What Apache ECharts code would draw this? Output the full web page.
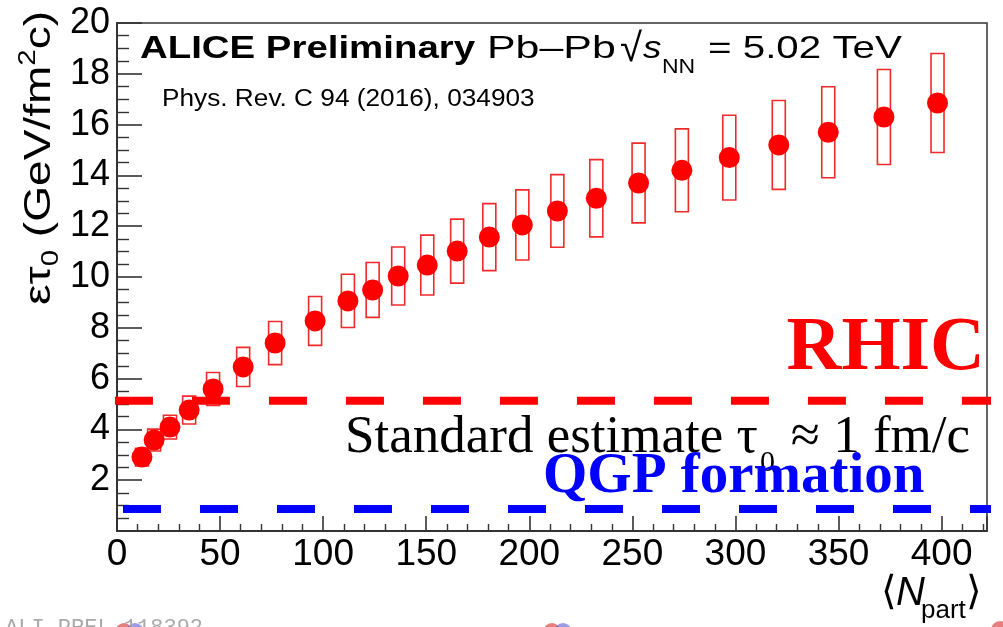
<!DOCTYPE html>
<html lang="en" style="height: 100%">
<head>
    <meta charset="utf-8">
    <script src="https://cdn.jsdelivr.net/npm/echarts@6/dist/echarts.min.js"></script>
</head>
<body style="height: 100%; margin: 0; background: #fff">
<div id="main" style="width: 1003px; height: 627px"></div>

<script type="text/javascript">
    // <Npart> per centrality class
    var npart = [12.1, 18.0, 25.7, 35.0, 46.6, 61.2, 76.7, 96.1, 112, 124, 136.4, 150.5,
        165, 180.6, 196.6, 213.6, 232.5, 253, 274, 297, 321, 345, 372, 398];
    // epsilon * tau0 (GeV/fm^2 c)
    var epsTau = [2.91, 3.58, 4.09, 4.76, 5.59, 6.46, 7.40, 8.27, 9.06, 9.49, 10.04, 10.47,
        11.02, 11.57, 12.05, 12.60, 13.10, 13.70, 14.20, 14.70, 15.20, 15.70, 16.30, 16.85];
    // systematic uncertainty (half height of the boxes)
    var sysErr = [0.35, 0.43, 0.47, 0.55, 0.65, 0.77, 0.85, 0.96, 1.05, 1.08, 1.14, 1.18,
        1.26, 1.32, 1.38, 1.43, 1.52, 1.57, 1.63, 1.67, 1.75, 1.79, 1.87, 1.95];

    // reference levels
    var rhicLevel = 5.13;
    var qgpLevel = 0.87;
    var rhicSpan = [-1, 432];
    var qgpSpan = [2.9, 432];

    var xTicks = [0, 50, 100, 150, 200, 250, 300, 350, 400];
    var yTicks = [2, 4, 6, 8, 10, 12, 14, 16, 18, 20];

    var sans = 'Liberation Sans';
    var serif = 'Liberation Serif';

    var chart = echarts.init(document.getElementById('main'), null, {renderer: 'canvas'});

    var boxData = npart.map(function (n, i) {
        return [n, epsTau[i], sysErr[i]];
    });
    var pointData = npart.map(function (n, i) {
        return [n, epsTau[i]];
    });

    // helper for plain text pieces (baseline given in y)
    function txt(x, baseline, text, size, opts) {
        opts = opts || {};
        return {
            type: 'text',
            x: x,
            y: baseline - size * 0.34,
            scaleX: opts.sx || 1,
            z: 100,
            style: {
                text: text,
                fontFamily: opts.family || sans,
                fontSize: size,
                fontWeight: opts.weight || 'normal',
                fontStyle: opts.style || 'normal',
                fill: opts.color || '#000',
                align: opts.align || 'left',
                verticalAlign: 'middle'
            }
        };
    }

    var axisCol = '#333';

    chart.setOption({
        animation: false,
        grid: {
            left: 117, right: 16, top: 23, bottom: 96,
            show: true, borderColor: axisCol, borderWidth: 1.5,
            containLabel: false, outerBoundsMode: 'none'
        },
        xAxis: {
            type: 'value',
            min: 0, max: 422, interval: 50,
            axisLine: {show: true, onZero: false, lineStyle: {color: axisCol, width: 2}},
            axisTick: {show: true, inside: true, length: 15, lineStyle: {color: axisCol, width: 1.6}},
            minorTick: {show: true, splitNumber: 5, length: 7, lineStyle: {color: axisCol, width: 1.4}},
            splitLine: {show: false},
            axisLabel: {
                fontFamily: sans, fontSize: 37, color: '#000', margin: 5,
                showMaxLabel: false,
                formatter: function (v) { return xTicks.indexOf(v) >= 0 ? String(v) : ''; }
            }
        },
        yAxis: {
            type: 'value',
            min: 0, max: 20, interval: 2,
            axisLine: {show: true, onZero: false, lineStyle: {color: axisCol, width: 2}},
            axisTick: {show: true, inside: true, length: 25, lineStyle: {color: axisCol, width: 1.6}},
            minorTick: {show: true, splitNumber: 4, length: 12, lineStyle: {color: axisCol, width: 1.4}},
            splitLine: {show: false},
            axisLabel: {
                fontFamily: sans, fontSize: 36, color: '#000', margin: 7,
                showMinLabel: false,
                formatter: function (v) { return yTicks.indexOf(v) >= 0 ? String(v) : ''; }
            }
        },
        series: [
            {
                // systematic boxes
                type: 'custom',
                data: boxData,
                z: 2,
                renderItem: function (params, api) {
                    var x = api.value(0), y = api.value(1), e = api.value(2);
                    var top = api.coord([x, y + e]);
                    var bot = api.coord([x, y - e]);
                    var w = 13;
                    return {
                        type: 'rect',
                        shape: {x: top[0] - w / 2, y: top[1], width: w, height: bot[1] - top[1]},
                        style: {fill: 'none', stroke: '#f02a2a', lineWidth: 1.6}
                    };
                }
            },
            {
                type: 'line',
                data: [[rhicSpan[0], rhicLevel], [rhicSpan[1], rhicLevel]],
                symbol: 'none', clip: false, z: 3,
                lineStyle: {color: '#ff0000', width: 8, type: [38, 39]}
            },
            {
                type: 'line',
                data: [[qgpSpan[0], qgpLevel], [qgpSpan[1], qgpLevel]],
                symbol: 'none', clip: false, z: 3,
                lineStyle: {color: '#0000ff', width: 8, type: [38, 39]}
            },
            {
                type: 'scatter',
                data: pointData,
                symbol: 'circle',
                symbolSize: 21,
                z: 4,
                itemStyle: {color: '#ff0000', opacity: 1}
            }
        ],
        graphic: [
            // header
            txt(140, 60, 'ALICE Preliminary', 32, {weight: 'bold', sx: 1.2}),
            txt(487, 60, 'Pb–Pb', 32, {sx: 1.34}),
            txt(620, 64, '√', 40, {}),
            txt(643, 60, 's', 32, {style: 'italic', sx: 1.15}),
            txt(662, 74, 'NN', 20, {sx: 1.15}),
            txt(708, 60, '= 5.02 TeV', 32, {sx: 1.26}),
            txt(162, 107, 'Phys. Rev. C 94 (2016), 034903', 23, {sx: 1.14}),

            // annotations
            txt(985, 375, 'RHIC', 76, {family: serif, weight: 'bold', color: '#ff0000', align: 'right'}),
            txt(345, 456, 'Standard estimate τ', 53, {family: serif}),
            txt(760, 473, '0', 30, {family: serif}),
            txt(970, 456, '≈ 1 fm/c', 53, {family: serif, align: 'right'}),
            txt(543, 497, 'QGP formation', 57, {family: serif, weight: 'bold', color: '#0000ff'}),

            // x axis title
            txt(881, 607, '⟨', 40, {}),
            txt(896, 607, 'N', 40, {style: 'italic'}),
            txt(921, 620, 'part', 26, {}),
            txt(966, 607, '⟩', 40, {}),

            // y axis title (rotated)
            {
                type: 'text',
                x: 40, y: 158,
                rotation: Math.PI / 2,
                scaleX: 1.28,
                z: 100,
                style: {
                    text: '{a|ετ}{sub|0}{a| (GeV/fm}{sup|2}{a|c)}',
                    align: 'center',
                    verticalAlign: 'middle',
                    fill: '#000',
                    rich: {
                        a: {fontFamily: sans, fontSize: 36, lineHeight: 46, verticalAlign: 'middle', fill: '#000'},
                        sub: {fontFamily: sans, fontSize: 23, lineHeight: 23, verticalAlign: 'bottom', fill: '#000'},
                        sup: {fontFamily: sans, fontSize: 23, lineHeight: 23, verticalAlign: 'top', fill: '#000'}
                    }
                }
            },

            // watermark, cut at the bottom
            txt(5, 636, 'ALI-PREL-118392', 22, {family: 'Liberation Mono', color: '#aaaaaa'}),
            {type: 'circle', shape: {cx: 124, cy: 632, r: 9}, style: {fill: '#e06060', opacity: 0.8}, z: 90},
            {type: 'circle', shape: {cx: 135, cy: 632, r: 9}, style: {fill: '#7070e0', opacity: 0.7}, z: 90},
            {type: 'circle', shape: {cx: 552, cy: 632, r: 9}, style: {fill: '#e06060', opacity: 0.8}, z: 90},
            {type: 'circle', shape: {cx: 563, cy: 632, r: 9}, style: {fill: '#7070e0', opacity: 0.7}, z: 90},
            {type: 'circle', shape: {cx: 1000, cy: 630, r: 9}, style: {fill: '#e06060', opacity: 0.8}, z: 90}
        ]
    });
</script>
</body>
</html>
